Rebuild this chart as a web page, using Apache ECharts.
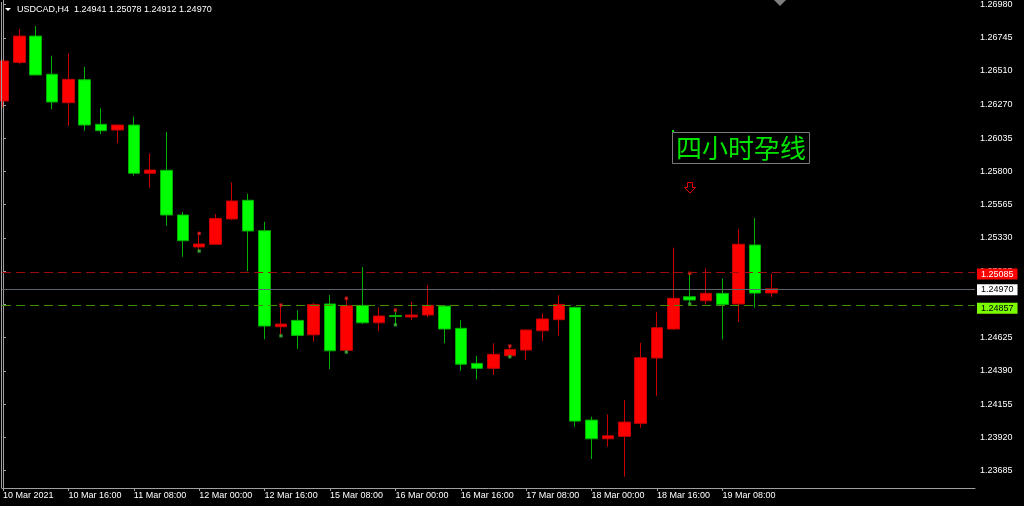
<!DOCTYPE html>
<html><head><meta charset="utf-8">
<script src="https://cdn.jsdelivr.net/npm/echarts@6/dist/echarts.min.js"></script>
<style>html,body{margin:0;padding:0;background:#000;}#c{width:1024px;height:506px;}</style>
</head><body><div id="c"></div>
<script>
const symbol = 'USDCAD';
const timeframe = 'H4';
const opens  = [1.26298,1.26571,1.26757,1.26487,1.26286,1.26448,1.26133,1.26093,1.26128,1.25787,1.25808,1.25492,
                1.25266,1.25285,1.25464,1.25596,1.25381,1.24702,1.24747,1.24645,1.24863,1.24535,1.24853,1.24730,
                1.24781,1.24771,1.24785,1.24848,1.24691,1.24443,1.24408,1.24497,1.24537,1.24674,1.24752,1.24839,
                1.24042,1.23910,1.23927,1.24019,1.24481,1.24686,1.24914,1.24886,1.24938,1.24863,1.25280,1.24941];
const closes = [1.26581,1.26757,1.26482,1.26291,1.26451,1.26128,1.26088,1.26128,1.25787,1.25810,1.25492,1.25310,
                1.25287,1.25468,1.25591,1.25379,1.24707,1.24721,1.24641,1.24858,1.24532,1.24851,1.24730,1.24778,
                1.24774,1.24785,1.24853,1.24686,1.24437,1.24408,1.24507,1.24542,1.24679,1.24757,1.24860,1.24035,
                1.23910,1.23931,1.24028,1.24483,1.24695,1.24903,1.24891,1.24938,1.24860,1.25285,1.24940,1.24970];
const highs  = [1.26590,1.26807,1.26828,1.26618,1.26635,1.26540,1.26246,1.26130,1.26187,1.25928,1.26079,1.25513,
                1.25362,1.25499,1.25723,1.25642,1.25444,1.24855,1.24818,1.24870,1.24926,1.24903,1.25124,1.24839,
                1.24820,1.24877,1.24997,1.24850,1.24749,1.24497,1.24585,1.24566,1.24683,1.24797,1.24926,1.24845,
                1.24066,1.24083,1.24184,1.24589,1.24808,1.25261,1.25080,1.25115,1.25044,1.25391,1.25471,1.25078];
const lows   = [1.26255,1.26557,1.26480,1.26239,1.26121,1.26088,1.26064,1.25999,1.25770,1.25685,1.25416,1.25197,
                1.25237,1.25280,1.25456,1.25096,1.24613,1.24638,1.24546,1.24596,1.24403,1.24523,1.24721,1.24672,
                1.24716,1.24749,1.24769,1.24585,1.24392,1.24330,1.24361,1.24490,1.24467,1.24601,1.24638,1.23995,
                1.23767,1.23854,1.23642,1.23988,1.24212,1.24680,1.24863,1.24860,1.24613,1.24737,1.24836,1.24912];
const xTickIndex  = [0,4,8,12,16,20,24,28,32,36,40,44];
const xTickLabels = ['10 Mar 2021','10 Mar 16:00','11 Mar 08:00','12 Mar 00:00','12 Mar 16:00','15 Mar 08:00',
                     '16 Mar 00:00','16 Mar 16:00','17 Mar 08:00','18 Mar 00:00','18 Mar 16:00','19 Mar 08:00'];
const yTickValues = [1.26980,1.26745,1.26510,1.26270,1.26035,1.25800,1.25565,1.25330,1.25095,1.24860,
                     1.24625,1.24390,1.24155,1.23920,1.23685];
const yLabelValues = [1.26980,1.26745,1.26510,1.26270,1.26035,1.25800,1.25565,1.25330,1.25095,
                      1.24625,1.24390,1.24155,1.23920,1.23685];
const levels = [1.25085, 1.24970, 1.24857];
const dotCandles = [12,17,21,24,31,42];
const annotationText = '四小时孕线';

const FONT = 'Liberation Sans';
const candleData = opens.map((o, i) => [i, o, closes[i], lows[i], highs[i]]);
const last = opens.length - 1;
const headerText = symbol + ',' + timeframe + '  ' +
  [opens[last], highs[last], lows[last], closes[last]].map(v => v.toFixed(5)).join(' ');

const levelStyles = [
  {line: '#a00c0c', type: [9, 5], bg: '#ff0000', fg: '#ffffff', off: [0, 1.5]},
  {line: '#5c636b', type: 'solid', bg: '#ffffff', fg: '#000000', off: [0, 1]},
  {line: '#3f8f00', type: [9, 5], bg: '#7cfc00', fg: '#000000', off: [0, 3.5]}
];

const levelSeries = levels.map((v, k) => ({
  type: 'line', data: [], silent: true, z: 1,
  markLine: {
    silent: true, symbol: ['none', 'none'], animation: false, precision: 5,
    lineStyle: {color: levelStyles[k].line, type: levelStyles[k].type, width: 1},
    label: {
      show: true, position: 'end', distance: 2, offset: levelStyles[k].off,
      formatter: () => v.toFixed(5),
      backgroundColor: levelStyles[k].bg, color: levelStyles[k].fg,
      fontFamily: FONT, fontSize: 9, lineHeight: 11, padding: [0, 4, 0, 4]
    },
    data: [{yAxis: v}]
  }
}));

const chart = echarts.init(document.getElementById('c'), null, {renderer: 'canvas'});
chart.setOption({
  backgroundColor: '#000000',
  animation: false,
  grid: {left: 2, right: 49, top: 0, bottom: 18, containLabel: false},
  xAxis: {
    type: 'value', min: -0.06, max: 59.45,
    splitLine: {show: false},
    axisLine: {show: true, onZero: false, lineStyle: {color: '#a0a0a0', width: 1}},
    axisTick: {show: true, length: 3, customValues: xTickIndex, lineStyle: {color: '#a0a0a0'}},
    axisLabel: {
      show: true, customValues: xTickIndex, align: 'left', margin: 3,
      color: '#ffffff', fontFamily: FONT, fontSize: 9,
      formatter: v => { const k = xTickIndex.indexOf(Math.round(v)); return k >= 0 ? xTickLabels[k] : ''; }
    }
  },
  yAxis: {
    type: 'value', position: 'right', scale: true, min: 1.23562, max: 1.27012,
    splitLine: {show: false},
    axisLine: {show: true, lineStyle: {color: '#a0a0a0', width: 1}},
    axisTick: {show: true, length: 3, customValues: yTickValues, lineStyle: {color: '#a0a0a0'}},
    axisLabel: {
      show: true, customValues: yLabelValues, margin: 5, showMinLabel: true, showMaxLabel: true,
      color: '#ffffff', fontFamily: FONT, fontSize: 9,
      formatter: v => v.toFixed(5)
    }
  },
  series: levelSeries.concat([
    {
      type: 'candlestick',
      data: candleData,
      barWidth: 12,
      clip: true,
      itemStyle: {
        color: '#ff0000', color0: '#00ff00',
        borderColor: '#c40000', borderColor0: '#00b000', borderWidth: 1
      },
      z: 2
    },
    {
      type: 'scatter', symbol: 'rect', symbolSize: 3,
      data: dotCandles.map(i => [i, highs[i]]),
      itemStyle: {color: '#ff2a2a', borderColor: '#a00000', borderWidth: 0.5}, z: 3
    },
    {
      type: 'scatter', symbol: 'rect', symbolSize: 3,
      data: dotCandles.map(i => [i, lows[i]]),
      itemStyle: {color: '#4cc44c', borderColor: '#1f7a1f', borderWidth: 0.5}, z: 3
    }
  ]),
  graphic: [
    {type: 'line', shape: {x1: 1.5, y1: 2, x2: 1.5, y2: 488}, style: {stroke: '#a0a0a0', lineWidth: 1}, z: 10},
    {type: 'polygon', shape: {points: [[5, 8], [11, 8], [8, 11]]}, style: {fill: '#ffffff'}, z: 10},
    {type: 'text', x: 17, y: 10, style: {text: headerText, fill: '#ffffff', font: '9px "Liberation Sans"', verticalAlign: 'middle', textAlign: 'left'}, z: 10},
    {type: 'polygon', shape: {points: [[774, 0], [786, 0], [780, 6]]}, style: {fill: '#7f7f7f'}, z: 10},
    {type: 'rect', shape: {x: 672.5, y: 132.5, width: 137, height: 31}, style: {fill: 'none', stroke: '#7a7a7a', lineWidth: 1}, z: 10},
    {type: 'rect', shape: {x: 672, y: 130, width: 2, height: 2}, style: {fill: '#00e000'}, z: 10},
    {type: 'text', x: 676, y: 148.5, style: {text: annotationText, fill: '#00e400', font: '26px "Noto Sans CJK SC"', verticalAlign: 'middle', textAlign: 'left'}, z: 10},
    {type: 'polygon', shape: {points: [[687.5, 182.5], [692.5, 182.5], [692.5, 187.5], [695.5, 187.5], [690, 193], [684.5, 187.5], [687.5, 187.5]]},
     style: {fill: 'none', stroke: '#e00000', lineWidth: 1}, z: 10}
  ]
});
</script></body></html>
